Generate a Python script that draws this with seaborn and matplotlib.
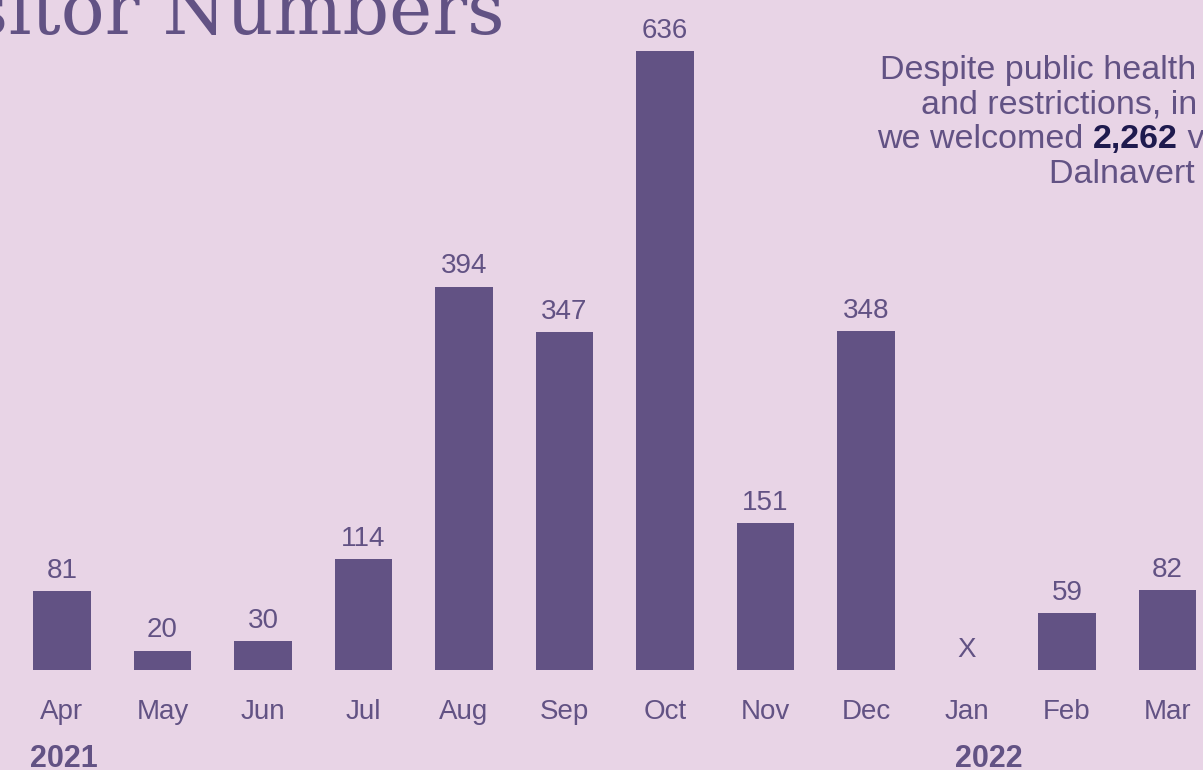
# Visitor numbers bar chart, Apr 2021 - Mar 2022

import numpy as np
import pandas as pd
import matplotlib.pyplot as plt
import seaborn as sns

sns.set_theme(style='white')
plt.rcParams['font.family'] = ['Liberation Sans', 'DejaVu Sans']

BG = '#E8D4E6'
PURPLE = '#625284'
NAVY = '#1E1A4E'

# Data
months = ['Apr', 'May', 'Jun', 'Jul', 'Aug', 'Sep', 'Oct', 'Nov', 'Dec', 'Jan', 'Feb', 'Mar']
visitors = [81, 20, 30, 114, 394, 347, 636, 151, 348, np.nan, 59, 82]
value_labels = ['81', '20', '30', '114', '394', '347', '636', '151', '348', 'X', '59', '82']
years = ['2021', '2022']

df = pd.DataFrame({'month': months, 'visitors': visitors})

#----------------------------------------------------------------------------------------------------------------
# Figure
#----------------------------------------------------------------------------------------------------------------
fig = plt.figure(figsize=(12.03, 7.70), dpi=100, facecolor=BG)
ax = fig.add_axes([0, 100 / 770, 1, 670 / 770])
ax.set_facecolor(BG)

sns.barplot(data=df, x='month', y='visitors', order=months, color=PURPLE,
            saturation=1, width=0.577, edgecolor='none', ax=ax)

px_per_unit = 619 / 636
ax.set_ylim(0, 670 / px_per_unit)
ax.set_xlim(-62 / 100.5, (1203 - 62) / 100.5)

for i, (v, lab) in enumerate(zip(visitors, value_labels)):
    y = 0 if np.isnan(v) else v
    ax.annotate(lab, (i, y), xytext=(0, 9.4), textcoords='offset points',
                ha='center', va='baseline', size=20, color=PURPLE)

ax.set_xlabel('')
ax.set_ylabel('')
ax.set_yticks([])
ax.set_xticks(range(len(months)))
ax.set_xticklabels(months)
ax.tick_params(axis='x', length=0, pad=21, labelsize=20, labelcolor=PURPLE)
sns.despine(ax=ax, left=True, bottom=True)

# year markers under the first month of each year
for yr, x_left in zip(years, [30, 955]):
    fig.text(x_left / 1203, 3 / 770, yr, ha='left', va='baseline',
             size=22, weight='bold', color=PURPLE)

# title, cut off at the top left like the source
fig.text(505 / 1203, 1 - 34 / 770, 'Visitor Numbers', ha='right', va='baseline',
         family='DejaVu Serif', size=52.5, color=PURPLE)

# note at the top right
note_size = 24.5
fig.text(880 / 1203, 1 - 79 / 770, 'Despite public health measures', ha='left',
         va='baseline', size=note_size, color=PURPLE)
fig.text(921 / 1203, 1 - 113 / 770, 'and restrictions, in 2021-22', ha='left',
         va='baseline', size=note_size, color=PURPLE)
t1 = fig.text(877 / 1203, 1 - 148 / 770, 'we welcomed ', ha='left',
              va='baseline', size=note_size, color=PURPLE)
t2 = ax.annotate('2,262', xy=(1, 0), xycoords=t1, ha='left', va='bottom',
                 size=note_size, weight='bold', color=NAVY, annotation_clip=False)
ax.annotate(' visitors to', xy=(1, 0), xycoords=t2, ha='left', va='bottom',
            size=note_size, color=PURPLE, annotation_clip=False)
fig.text(1049 / 1203, 1 - 183 / 770, 'Dalnavert Museum.', ha='left',
         va='baseline', size=note_size, color=PURPLE)

plt.savefig('out.png', dpi=100, facecolor=BG)
plt.close()
